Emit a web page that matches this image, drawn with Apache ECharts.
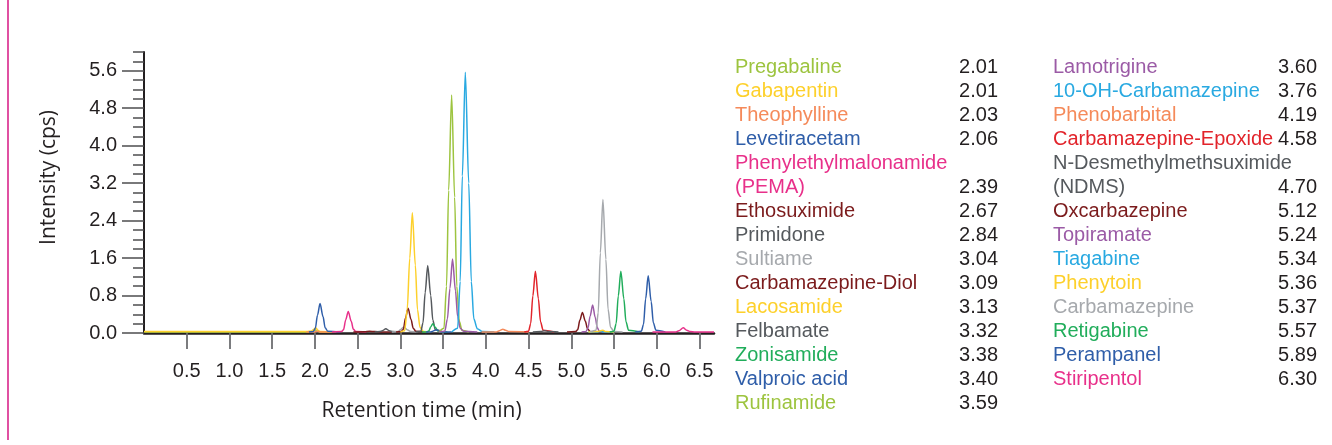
<!DOCTYPE html>
<html><head><meta charset="utf-8">
<script src="https://cdn.jsdelivr.net/npm/echarts@6/dist/echarts.min.js"></script>
<style>html,body{margin:0;padding:0;background:#fff}#c{width:1332px;height:445px}</style>
</head><body><div id="c"></div>
<script>
// ---- data ----
const names = ['Pregabaline','Gabapentin','Theophylline','Levetiracetam','Phenylethylmalonamide\n(PEMA)','Ethosuximide','Primidone','Sultiame','Carbamazepine-Diol','Lacosamide','Felbamate','Zonisamide','Valproic acid','Rufinamide',
  'Lamotrigine','10-OH-Carbamazepine','Phenobarbital','Carbamazepine-Epoxide','N-Desmethylmethsuximide\n(NDMS)','Oxcarbazepine','Topiramate','Tiagabine','Phenytoin','Carbamazepine','Retigabine','Perampanel','Stiripentol'];
const retentionTimes = ['2.01','2.01','2.03','2.06','2.39','2.67','2.84','3.04','3.09','3.13','3.32','3.38','3.40','3.59',
  '3.60','3.76','4.19','4.58','4.70','5.12','5.24','5.34','5.36','5.37','5.57','5.89','6.30'];
const colors = ['#9dc43f','#fdd02b','#f58a5a','#2f5ea9','#e8308a','#7b1b1c','#55595d','#a6a9ad','#7b1b1c','#fdd02b','#55595d','#21ad5b','#2f5ea9','#9dc43f',
  '#9b5ba6','#29a9e1','#f58a5a','#e2242b','#55595d','#7b1b1c','#9b5ba6','#29a9e1','#fdd02b','#a6a9ad','#21ad5b','#2f5ea9','#e8308a'];
const xTickValues = [0.5,1.0,1.5,2.0,2.5,3.0,3.5,4.0,4.5,5.0,5.5,6.0,6.5];
const yTickValues = [0,0.8,1.6,2.4,3.2,4.0,4.8,5.6];

const pregabaline = [[0,0.02],[1.9,0.02],[1.96,0.03],[1.98,0.05],[2.0,0.07],[2.025,0.04],[2.06,0.02],[2.2,0.02]];
const gabapentin = [[0,0.03],[1.9,0.03],[1.96,0.04],[1.98,0.07],[2.01,0.11],[2.035,0.06],[2.06,0.03],[2.2,0.02]];
const theophylline = [[1.9,0.02],[1.99,0.02],[2.03,0.04],[2.07,0.02],[2.25,0.02]];
const levetiracetam = [[1.93,0.02],[1.98,0.03],[2.005,0.1],[2.03,0.38],[2.06,0.63],[2.095,0.35],[2.12,0.11],[2.15,0.04],[2.3,0.02]];
const pema = [[2.2,0.02],[2.31,0.03],[2.335,0.07],[2.36,0.28],[2.39,0.46],[2.425,0.25],[2.45,0.08],[2.48,0.03],[2.6,0.02]];
const ethosuximide = [[2.45,0.02],[2.58,0.025],[2.64,0.035],[2.7,0.03],[2.78,0.02],[2.9,0.02]];
const primidone = [[2.7,0.02],[2.76,0.03],[2.79,0.05],[2.83,0.09],[2.87,0.05],[2.91,0.03],[3.0,0.02]];
const sultiame = [[2.9,0.02],[2.97,0.03],[3.0,0.07],[3.04,0.13],[3.08,0.07],[3.12,0.03],[3.2,0.02]];
const cbzDiol = [[2.95,0.02],[3.01,0.03],[3.035,0.08],[3.06,0.32],[3.09,0.53],[3.125,0.29],[3.15,0.1],[3.18,0.04],[3.3,0.02]];
const lacosamide = [[3.0,0.02],[3.05,0.05],[3.08,0.5],[3.11,1.6],[3.14,2.57],[3.175,1.45],[3.2,0.5],[3.23,0.12],[3.27,0.03],[3.35,0.02]];
const felbamate = [[3.18,0.02],[3.24,0.04],[3.265,0.22],[3.29,0.86],[3.32,1.44],[3.355,0.8],[3.38,0.27],[3.41,0.07],[3.5,0.02]];
const zonisamide = [[3.25,0.02],[3.31,0.02],[3.335,0.05],[3.355,0.13],[3.38,0.2],[3.41,0.12],[3.44,0.04],[3.47,0.02],[3.55,0.02]];
const valproicAcid = [[3.3,0.02],[3.35,0.02],[3.38,0.04],[3.42,0.07],[3.455,0.04],[3.49,0.02],[3.6,0.02]];
const rufinamide = [[3.45,0.02],[3.51,0.1],[3.54,1.0],[3.565,3.05],[3.6,5.08],[3.635,2.9],[3.66,1.0],[3.69,0.25],[3.72,0.06],[3.8,0.02]];
const lamotrigine = [[3.45,0.02],[3.52,0.04],[3.55,0.3],[3.58,0.95],[3.61,1.58],[3.645,0.9],[3.67,0.35],[3.7,0.1],[3.74,0.04],[3.9,0.02]];
const ohCarbamazepine = [[3.6,0.02],[3.67,0.1],[3.7,1.1],[3.725,3.35],[3.76,5.57],[3.8,3.2],[3.83,1.1],[3.86,0.3],[3.9,0.09],[3.96,0.03],[4.1,0.02]];
const phenobarbital = [[3.95,0.02],[4.12,0.02],[4.16,0.05],[4.2,0.08],[4.23,0.06],[4.27,0.03],[4.5,0.02]];
const cbzEpoxide = [[4.45,0.02],[4.5,0.04],[4.525,0.2],[4.55,0.79],[4.58,1.32],[4.615,0.73],[4.64,0.24],[4.67,0.06],[4.8,0.02]];
const ndms = [[4.55,0.02],[4.64,0.03],[4.69,0.05],[4.74,0.03],[4.85,0.02]];
const oxcarbazepine = [[4.95,0.02],[5.05,0.03],[5.075,0.07],[5.1,0.27],[5.13,0.44],[5.165,0.25],[5.19,0.09],[5.22,0.03],[5.3,0.02]];
const topiramate = [[5.12,0.02],[5.17,0.03],[5.195,0.1],[5.22,0.36],[5.25,0.6],[5.28,0.33],[5.305,0.11],[5.33,0.03],[5.4,0.02]];
const tiagabine = [[5.2,0.02],[5.3,0.02],[5.34,0.04],[5.38,0.02],[5.5,0.02]];
const phenytoin = [[5.2,0.02],[5.31,0.03],[5.34,0.05],[5.37,0.06],[5.4,0.03],[5.5,0.02]];
const carbamazepine = [[5.22,0.02],[5.29,0.06],[5.315,0.43],[5.34,1.71],[5.37,2.85],[5.405,1.57],[5.43,0.51],[5.46,0.12],[5.5,0.03],[5.6,0.02]];
const retigabine = [[5.45,0.02],[5.5,0.04],[5.525,0.2],[5.55,0.79],[5.58,1.32],[5.615,0.73],[5.64,0.24],[5.67,0.06],[5.8,0.02]];
const perampanel = [[5.75,0.02],[5.82,0.04],[5.845,0.18],[5.87,0.73],[5.9,1.22],[5.935,0.67],[5.96,0.22],[5.99,0.06],[6.1,0.02]];
const stiripentol = [[5.95,0.02],[6.22,0.02],[6.26,0.05],[6.31,0.11],[6.35,0.06],[6.39,0.03],[6.45,0.02],[6.67,0.02]];

const traces = [pregabaline,gabapentin,theophylline,levetiracetam,pema,ethosuximide,primidone,sultiame,cbzDiol,lacosamide,felbamate,zonisamide,valproicAcid,rufinamide,
  lamotrigine,ohCarbamazepine,phenobarbital,cbzEpoxide,ndms,oxcarbazepine,topiramate,tiagabine,phenytoin,carbamazepine,retigabine,perampanel,stiripentol];

// ---- chart ----
const FONT = '"Liberation Sans", Arial, Helvetica, sans-serif';
const TITLEFONT = '"Open Sans", "Noto Sans", sans-serif';
const chart = echarts.init(document.getElementById('c'), null, {renderer:'canvas'});
const rtOf = {};
names.forEach((n,i)=>{ rtOf[n] = retentionTimes[i]; });
function legendFmt(name){
  const parts = name.split('\n');
  const last = parts.pop();
  let s = parts.map(p => '{n|' + p + '}\n').join('');
  return s + '{n|' + last + '}{v|' + rtOf[name] + '}';
}
function makeLegend(list, left, nameW){
  return {
    orient:'vertical', left:left, top:55, padding:0, itemGap:0,
    icon:'none', itemWidth:0, itemHeight:0, selectedMode:false,
    data: list.map(n => ({name:n, textStyle:{color: colors[names.indexOf(n)]}})),
    formatter: legendFmt,
    textStyle:{fontFamily:FONT, fontSize:20, lineHeight:24,
      rich:{
        n:{width:nameW, fontFamily:FONT, fontSize:20, lineHeight:24},
        v:{width:40, align:'right', color:'#231f20', fontFamily:FONT, fontSize:20, lineHeight:24}
      }}
  };
}
const option = {
  backgroundColor:'#fff',
  animation:false,
  grid:{left:144, right:618, top:52, bottom:112, containLabel:false},
  xAxis:{
    type:'value', min:0, max:6.67,
    name:'Retention time (min)', nameLocation:'middle', nameGap:68,
    nameTextStyle:{fontFamily:TITLEFONT, fontSize:21, color:'#231f20', padding:[0,15,0,0]},
    axisLine:{show:true, onZero:false, lineStyle:{color:'#231f20', width:2.5}},
    axisTick:{show:true, customValues:xTickValues, length:16, lineStyle:{color:'#6d6e71', width:1.8}},
    axisLabel:{customValues:xTickValues, margin:28, fontFamily:FONT, fontSize:20, color:'#231f20', formatter:v=>v.toFixed(1)},
    splitLine:{show:false}
  },
  yAxis:[{
    type:'value', min:0, max:6, position:'left',
    name:'Intensity (cps)', nameLocation:'middle', nameGap:84,
    nameTextStyle:{fontFamily:TITLEFONT, fontSize:21, color:'#231f20', padding:[0,0,0,30]},
    axisLine:{show:true, onZero:false, lineStyle:{color:'#231f20', width:2}},
    axisTick:{show:true, customValues:yTickValues, length:22, lineStyle:{color:'#4d4d4f', width:1.5}},
    axisLabel:{customValues:yTickValues, margin:27, fontFamily:FONT, fontSize:20, color:'#231f20', formatter:v=>v.toFixed(1)},
    splitLine:{show:false}
  },{
    type:'value', min:0, max:6, interval:0.2, position:'left',
    axisLine:{show:false}, axisLabel:{show:false}, splitLine:{show:false},
    axisTick:{show:true, length:11, lineStyle:{color:'#4d4d4f', width:1.5}}
  }],
  legend:[ makeLegend(names.slice(0,14), 730, 223), makeLegend(names.slice(14), 1048, 224) ],
  graphic:[{type:'line', shape:{x1:8,y1:0,x2:8,y2:440}, style:{stroke:'#d9258b', lineWidth:1.6}}],
  series: traces.map((d,i)=>({
    type:'line', name:names[i], data:d, yAxisIndex:0,
    symbol:'none', showSymbol:false, smooth:0.3, smoothMonotone:'x', silent:true,
    lineStyle:{width:1.5, color:colors[i]}, itemStyle:{color:colors[i]}
  }))
};
chart.setOption(option);
</script>
</body></html>
